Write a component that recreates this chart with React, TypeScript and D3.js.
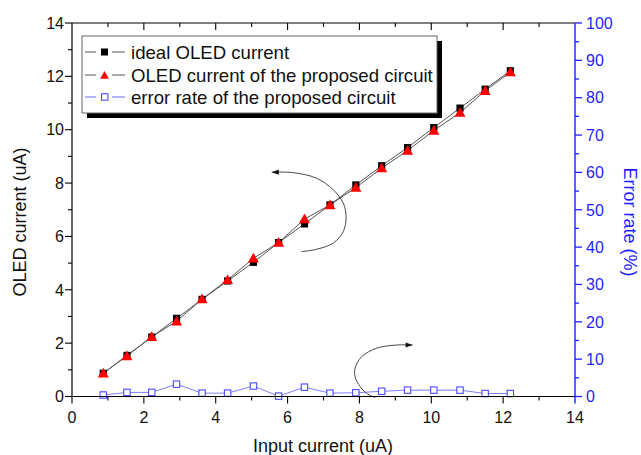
import React from "react";
import * as d3 from "d3";

const inputCurrent = [0.87, 1.53, 2.22, 2.91, 3.62, 4.33, 5.05, 5.75, 6.47, 7.18, 7.9, 8.62, 9.34, 10.07, 10.8, 11.5, 12.2];
const idealCurrent = [0.87, 1.54, 2.23, 2.93, 3.64, 4.33, 5.03, 5.77, 6.47, 7.18, 7.93, 8.65, 9.33, 10.08, 10.81, 11.52, 12.21];
const proposedCurrent = [0.87, 1.52, 2.24, 2.82, 3.65, 4.37, 5.18, 5.77, 6.65, 7.18, 7.83, 8.56, 9.22, 9.97, 10.64, 11.46, 12.16];
const errorRate = [0.4, 1.1, 1.1, 3.3, 0.9, 0.9, 2.8, 0.1, 2.5, 0.9, 1.0, 1.4, 1.7, 1.7, 1.7, 0.8, 0.8];

const xTicks = [0, 2, 4, 6, 8, 10, 12, 14];
const yTicks = [0, 2, 4, 6, 8, 10, 12, 14];
const y2Ticks = [0, 10, 20, 30, 40, 50, 60, 70, 80, 90, 100];

const legendLabels = ["ideal OLED current", "OLED current of the proposed circuit", "error rate of the proposed circuit"];

// annotation arrows in data units (x, left y)
const arrowUpper: [number, number][] = [
  [5.56, 8.41], [6.16, 8.39], [6.81, 8.18], [7.27, 7.75], [7.55, 7.25], [7.63, 6.74], [7.55, 6.18], [7.27, 5.75], [6.81, 5.52], [6.39, 5.43],
];
const arrowLower: [number, number][] = [
  [9.48, 1.93], [9.04, 1.93], [8.48, 1.81], [8.06, 1.49], [7.88, 1.06], [7.88, 0.74], [8.02, 0.37], [8.2, 0.12], [8.44, -0.04],
];

const FONT = "'Liberation Sans', Arial, Helvetica, sans-serif";
const BLUE = "#1f1fff";

export default function App() {
  const x = d3.scaleLinear().domain([0, 14]).range([72, 575]);
  const y = d3.scaleLinear().domain([0, 14]).range([396.5, 23]);
  const y2 = d3.scaleLinear().domain([0, 100]).range([396.5, 23]);

  const idx = d3.range(inputCurrent.length);
  const lineIdeal = d3.line<number>().x((i) => x(inputCurrent[i])).y((i) => y(idealCurrent[i]));
  const lineProp = d3.line<number>().x((i) => x(inputCurrent[i])).y((i) => y(proposedCurrent[i]));
  const lineErr = d3.line<number>().x((i) => x(inputCurrent[i])).y((i) => y2(errorRate[i]));
  const curve = d3.line<[number, number]>().x((d) => x(d[0])).y((d) => y(d[1])).curve(d3.curveCatmullRom);

  const minorX = d3.range(0, 15, 1);
  const minorY = d3.range(0, 15, 1);
  const minorY2 = d3.range(0, 101, 5);

  const tri = (cx: number, cy: number, s: number) =>
    `M${cx},${cy - s * 0.55}L${cx + s * 0.55},${cy + s * 0.42}L${cx - s * 0.55},${cy + s * 0.42}Z`;

  const head = (pts: [number, number][], dir: number) => {
    const [hx, hy] = [x(pts[0][0]), y(pts[0][1])];
    const L = 7, W = 2.6;
    return `M${hx},${hy}L${hx - dir * L},${hy - W}L${hx - dir * L},${hy + W}Z`;
  };

  const lx = 82, ly = 36, lw = 355, lh = 77;
  const rows = [52, 75, 97];

  return (
    <svg width={641} height={455} style={{ position: "absolute", left: 0, top: 0, background: "#fff" }} fontFamily={FONT}>
      <rect x={0} y={0} width={641} height={455} fill="#fff" />
      {/* legend */}
      <rect x={lx + 5} y={ly + 5} width={lw} height={lh} fill="#000" />
      <rect x={lx} y={ly} width={lw} height={lh} fill="#fff" stroke="#666" strokeWidth={1} />
      {legendLabels.map((t, k) => (
        <g key={k}>
          <line x1={85} x2={96} y1={rows[k]} y2={rows[k]} stroke={k === 2 ? "#6a6aff" : "#555"} strokeWidth={1} />
          <line x1={112} x2={125} y1={rows[k]} y2={rows[k]} stroke={k === 2 ? "#6a6aff" : "#555"} strokeWidth={1} />
          {k === 0 && <rect x={101} y={rows[k] - 3.5} width={7} height={7} fill="#000" />}
          {k === 1 && <path d={tri(104.5, rows[k] + 0.5, 8)} fill="#ff0000" />}
          {k === 2 && <rect x={101.5} y={rows[k] - 3.2} width={6.4} height={6.4} fill="#fff" stroke="#4a4aff" strokeWidth={1.1} />}
          <text x={131} y={rows[k]} dy="0.36em" fontSize={18.6} fill="#111">{t}</text>
        </g>
      ))}

      {/* data */}
      <path d={lineErr(idx) || ""} fill="none" stroke="#8080ff" strokeWidth={1} />
      <path d={lineIdeal(idx) || ""} fill="none" stroke="#555" strokeWidth={1} />
      <path d={lineProp(idx) || ""} fill="none" stroke="#555" strokeWidth={1} />
      {idx.map((i) => (
        <rect key={"e" + i} x={x(inputCurrent[i]) - 3.2} y={y2(errorRate[i]) - 3.2} width={6.4} height={6.4} fill="#fff" stroke="#4a4aff" strokeWidth={1.1} />
      ))}
      {idx.map((i) => (
        <rect key={"b" + i} x={x(inputCurrent[i]) - 3.6} y={y(idealCurrent[i]) - 3.6} width={7.2} height={7.2} fill="#000" />
      ))}
      {idx.map((i) => (
        <path key={"r" + i} d={tri(x(inputCurrent[i]), y(proposedCurrent[i]), 10)} fill="#ff0000" />
      ))}

      {/* arrows */}
      <path d={curve(arrowUpper) || ""} fill="none" stroke="#333" strokeWidth={0.9} />
      <path d={head(arrowUpper, -1)} fill="#111" />
      <path d={curve(arrowLower) || ""} fill="none" stroke="#333" strokeWidth={0.9} />
      <path d={head(arrowLower, 1)} fill="#111" />

      {/* axes */}
      <line x1={72} x2={575} y1={23} y2={23} stroke="#000" strokeWidth={1.2} />
      <line x1={72} x2={575} y1={396.5} y2={396.5} stroke="#000" strokeWidth={1.2} />
      <line x1={72} x2={72} y1={23} y2={396.5} stroke="#000" strokeWidth={1.2} />
      <line x1={575} x2={575} y1={23} y2={396.5} stroke={BLUE} strokeWidth={1.4} />

      {minorX.map((v) => {
        const major = v % 2 === 0;
        const L = major ? 7 : 4;
        return (
          <g key={"xt" + v}>
            {v !== 14 && <line x1={x(v)} x2={x(v)} y1={396.5} y2={396.5 + L} stroke="#000" strokeWidth={1.1} />}
            {v > 0 && v < 14 && <line x1={x(v)} x2={x(v)} y1={23} y2={23 + L} stroke="#000" strokeWidth={1.1} />}
          </g>
        );
      })}
      <line x1={x(14)} x2={x(14)} y1={396.5} y2={403.5} stroke={BLUE} strokeWidth={1.4} />
      {minorY.map((v) => {
        const major = v % 2 === 0;
        const L = major ? 7 : 4;
        return <line key={"yt" + v} x1={72 - L} x2={72} y1={y(v)} y2={y(v)} stroke="#000" strokeWidth={1.1} />;
      })}
      {minorY2.map((v) => {
        const major = v % 10 === 0;
        const L = major ? 7 : 4;
        return <line key={"y2t" + v} x1={575} x2={575 + L} y1={y2(v)} y2={y2(v)} stroke={BLUE} strokeWidth={1.3} />;
      })}

      {xTicks.map((v) => (
        <text key={"xl" + v} x={x(v)} y={417} dy="0.36em" textAnchor="middle" fontSize={16} fill="#111">{v}</text>
      ))}
      {yTicks.map((v) => (
        <text key={"yl" + v} x={64} y={y(v)} dy="0.36em" textAnchor="end" fontSize={16} fill="#111">{v}</text>
      ))}
      {y2Ticks.map((v) => (
        <text key={"y2l" + v} x={586} y={y2(v)} dy="0.36em" textAnchor="start" fontSize={16} fill={BLUE}>{v}</text>
      ))}

      <text x={323} y={452} textAnchor="middle" fontSize={18} fill="#111">Input current (uA)</text>
      <text transform="translate(26,222) rotate(-90)" textAnchor="middle" fontSize={18} fill="#111">OLED current (uA)</text>
      <text transform="translate(624,222) rotate(90)" textAnchor="middle" fontSize={18} fill={BLUE}>Error rate (%)</text>
    </svg>
  );
}
